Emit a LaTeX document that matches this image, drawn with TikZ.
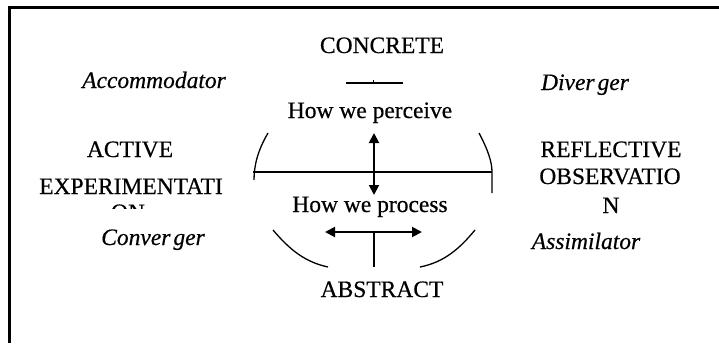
\documentclass[tikz,border=0pt]{standalone}
\usepackage{fontspec}
\setmainfont{Liberation Serif}[FakeBold=0.5]
\usetikzlibrary{arrows.meta}
\begin{document}
\begin{tikzpicture}[x=1pt,y=-1pt,
  lbl/.style={anchor=base,inner sep=0pt,font=\fontsize{23.5}{28}\selectfont},
  ilbl/.style={lbl,font=\fontsize{23.5}{28}\selectfont\itshape},
  ln/.style={line width=2pt},
  arc/.style={line width=1.3pt},
  dbl/.style={line width=2pt,{Triangle[length=10pt,width=10pt]}-{Triangle[length=10pt,width=10pt]}}]
\useasboundingbox (0,0) rectangle (719,343);
% frame
\coordinate (fbl) at (9.5,343);
\coordinate (ftl) at (9.5,7.5);
\coordinate (ftr) at (719,7.5);
\draw[line width=2.8pt] (fbl) -- (ftl) -- (ftr);
% texts
\node[lbl] (concrete) at (382,53) {CONCRETE};
\node[lbl] (perceive) at (370,118) {How we perceive};
\node[lbl] (process) at (370,212) {How we process};
\node[lbl] (abstract) at (382,297) {ABSTRACT};
\node[ilbl] (accom) at (154,88) {Accommodator};
\node[lbl] (active) at (130,157) {ACTIVE};
\node[lbl] (exper) at (131,194) {EXPERIMENTATI};
\begin{scope}
\clip (0,0) rectangle (719,208);
\node[lbl] (on) at (128,220) {ON};
\end{scope}
\node[ilbl] (conv) at (153,245) {Conver\kern3pt ger};
\node[ilbl] (div) at (585,90) {Diver\kern3pt ger};
\node[lbl] (refl) at (611,157) {REFLECTIVE};
\node[lbl] (obs) at (610,184) {OBSERVATIO};
\node[lbl] (n) at (611,213) {N};
\node[ilbl] (assim) at (586,249) {Assimilator};
% small mark under CONCRETE
\coordinate (ma) at (346,83);
\coordinate (mb) at (403,83);
\coordinate (mt) at (373,80);
\coordinate (mc) at (373,83);
\draw[line width=1.6pt] (ma) -- (mb);
\draw[line width=1pt] (mt) -- (mc);
% horizontal axis
\coordinate (hl) at (253,172);
\coordinate (hr) at (492,172);
\draw[ln] (hl) -- (hr);
% vertical double arrow
\coordinate (vt) at (374,133);
\coordinate (vb) at (374,195);
\draw[dbl] (vt) -- (vb);
% lower double arrow and stem
\coordinate (al) at (325,232);
\coordinate (ar) at (422,232);
\coordinate (sa) at (374,232);
\coordinate (sb) at (374,267);
\draw[dbl] (al) -- (ar);
\draw[ln] (sa) -- (sb);
% arcs
\coordinate (ul1) at (268,133);
\coordinate (ul2) at (254,180);
\draw[arc] (ul1) .. controls (258,150) and (254,165) .. (ul2);
\coordinate (ur1) at (479,133);
\coordinate (ur2) at (492,172);
\coordinate (ur3) at (492,193);
\draw[arc] (ur1) .. controls (488,150) and (492,162) .. (ur2) -- (ur3);
\coordinate (ll1) at (273,230);
\coordinate (ll2) at (328,267);
\draw[arc] (ll1) .. controls (290,250) and (305,262) .. (ll2);
\coordinate (lr1) at (420,267);
\coordinate (lr2) at (475,230);
\draw[arc] (lr1) .. controls (445,262) and (460,248) .. (lr2);
\end{tikzpicture}
\end{document}
